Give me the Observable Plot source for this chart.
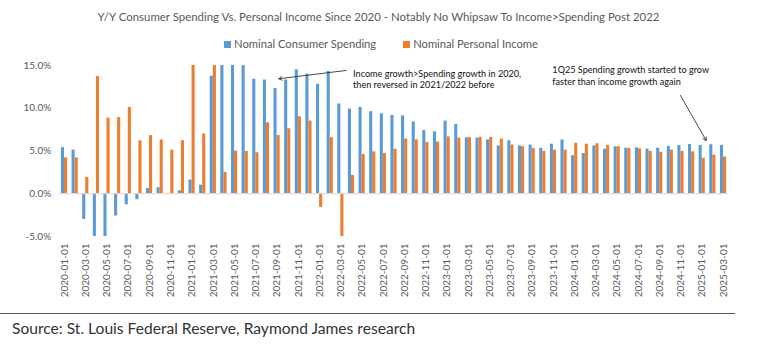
<!DOCTYPE html>
<html><head><meta charset="utf-8">
<script src="https://cdn.jsdelivr.net/npm/d3@7"></script>
<script src="https://cdn.jsdelivr.net/npm/@observablehq/plot@0.6"></script>
<style>
body{margin:0;background:#fff;font-family:Lato,"Open Sans",sans-serif;}
#wrap{position:relative;width:768px;height:350px;overflow:hidden;background:#fff;}
#title{position:absolute;top:10px;left:0;width:757px;text-align:center;font-size:11.45px;color:#595959;white-space:nowrap;}
#legend{position:absolute;top:37px;left:0;width:762px;display:flex;justify-content:center;gap:27px;font-size:11.2px;color:#595959;}
#legend span.sw{display:inline-block;width:7px;height:7px;margin-right:3px;vertical-align:0px;}
#chart{position:absolute;top:55px;left:0;}
#source{position:absolute;top:313px;left:0;width:735px;border-top:1.5px solid #595959;}
#source div{padding:5px 0 0 12px;font-size:15.6px;color:#333;white-space:nowrap;}
</style></head>
<body><div id="wrap">
<div id="title">Y/Y Consumer Spending Vs. Personal Income Since 2020 - Notably No Whipsaw To Income&gt;Spending Post 2022</div>
<div id="legend"></div>
<div id="chart"></div>
<div id="source"><div>Source: St. Louis Federal Reserve, Raymond James research</div></div>
</div>
<script>
const months = [
"2020-01-01","2020-02-01","2020-03-01","2020-04-01","2020-05-01","2020-06-01","2020-07-01","2020-08-01","2020-09-01","2020-10-01","2020-11-01","2020-12-01",
"2021-01-01","2021-02-01","2021-03-01","2021-04-01","2021-05-01","2021-06-01","2021-07-01","2021-08-01","2021-09-01","2021-10-01","2021-11-01","2021-12-01",
"2022-01-01","2022-02-01","2022-03-01","2022-04-01","2022-05-01","2022-06-01","2022-07-01","2022-08-01","2022-09-01","2022-10-01","2022-11-01","2022-12-01",
"2023-01-01","2023-02-01","2023-03-01","2023-04-01","2023-05-01","2023-06-01","2023-07-01","2023-08-01","2023-09-01","2023-10-01","2023-11-01","2023-12-01",
"2024-01-01","2024-02-01","2024-03-01","2024-04-01","2024-05-01","2024-06-01","2024-07-01","2024-08-01","2024-09-01","2024-10-01","2024-11-01","2024-12-01",
"2025-01-01","2025-02-01","2025-03-01"];
const seriesNames = ["Nominal Consumer Spending","Nominal Personal Income"];
const seriesColors = ["#5B9BD5","#ED7D31"];
// Y/Y % (values shown clipped to the chart's -5%..15% range)
const spending = [
5.4,5.1,-3.0,-5.0,-5.0,-2.6,-1.3,-0.7,0.6,0.7,0.05,0.35,
1.6,1.0,13.75,15,15,15,13.4,13.3,12.3,13.3,14.5,14.0,
12.8,14.3,10.5,9.9,10.1,9.6,9.35,9.15,9.1,8.4,7.4,7.25,
8.5,8.1,6.55,6.5,6.3,5.6,6.2,5.6,5.7,5.3,5.8,6.3,
4.45,4.7,5.6,5.2,5.5,5.33,5.37,5.22,5.33,5.53,5.65,5.76,
5.65,5.73,5.65];
const income = [
4.2,4.2,1.9,13.7,8.85,8.9,10.1,6.2,6.8,6.3,5.1,6.2,
15,7.0,15,2.5,5.0,4.95,4.8,8.3,6.8,7.6,9.0,8.5,
-1.6,6.55,-5,2.15,4.6,4.9,4.7,5.2,6.4,6.3,6.0,6.05,
6.65,6.5,6.55,6.6,6.6,6.4,5.7,5.5,5.3,4.95,5.1,5.1,
5.9,5.8,5.85,5.65,5.5,5.3,5.25,4.95,4.85,5.1,4.95,4.9,
4.15,4.5,4.3];
const yTicks = [-5,0,5,10,15];
const tickMonths = months.filter((m,i)=>i%2===0);
// annotations, in chart coordinates (month index, % value)
const noteText = ["Income growth>Spending growth in 2020,\nthen reversed in 2021/2022 before",
                  "1Q25 Spending growth started to grow\nfaster than income growth again"];
const noteX = [27.15, 45.9];
const noteY = [14.68, 15.06];
const arrowX1 = [26.5, 57.95], arrowY1 = [14.42, 11.5];
const arrowX2 = [20.16, 60.37], arrowY2 = [13.45, 6.23];

const barW = 0.29;
const spendRows = spending.map((v,i)=>({i, v}));
const incomeRows = income.map((v,i)=>({i, v}));
const notes = noteText.map((t,k)=>({t, x:noteX[k], y:noteY[k]}));
const arrows = arrowX1.map((_,k)=>({x1:arrowX1[k], y1:arrowY1[k], x2:arrowX2[k], y2:arrowY2[k]}));

const lg = document.getElementById("legend");
seriesNames.forEach((n,k)=>{
  const d = document.createElement("div");
  d.innerHTML = `<span class="sw" style="background:${seriesColors[k]}"></span>${n}`;
  lg.appendChild(d);
});

const plot = Plot.plot({
  width: 768, height: 259,
  marginTop: 10, marginBottom: 78, marginLeft: 58.7, marginRight: 39.7,
  style: {fontFamily: 'Lato, "Open Sans", sans-serif', fontSize: "10px", color: "#595959", background: "transparent"},
  x: {domain: [-0.5, 62.5]},
  y: {domain: [-5, 15]},
  marks: [
    Plot.rectY(spendRows, {x1: d=>d.i - barW, x2: d=>d.i, y: "v", fill: seriesColors[0], clip: true}),
    Plot.rectY(incomeRows, {x1: d=>d.i, x2: d=>d.i + barW, y: "v", fill: seriesColors[1], clip: true}),
    Plot.ruleY([0], {stroke: "#d9d9d9", strokeWidth: 1}),
    Plot.axisY({ticks: yTicks, tickFormat: d=>d.toFixed(1)+"%", tickSize: 0, tickPadding: 8, label: null, fill: "#595959"}),
    Plot.axisX({ticks: tickMonths.map(m=>months.indexOf(m)), tickFormat: i=>months[i], tickRotate: -90, tickSize: 0, tickPadding: 7, label: null, fill: "#595959"}),
    Plot.arrow(arrows, {x1: "x1", y1: "y1", x2: "x2", y2: "y2", stroke: "#333", strokeWidth: 0.9, headLength: 6}),
    Plot.text(notes, {x: "x", y: "y", text: "t", textAnchor: "start", lineAnchor: "top", lineHeight: 1.28, fontSize: 9.1, fill: "#111"})
  ]
});
document.getElementById("chart").appendChild(plot);
</script>
</body></html>
